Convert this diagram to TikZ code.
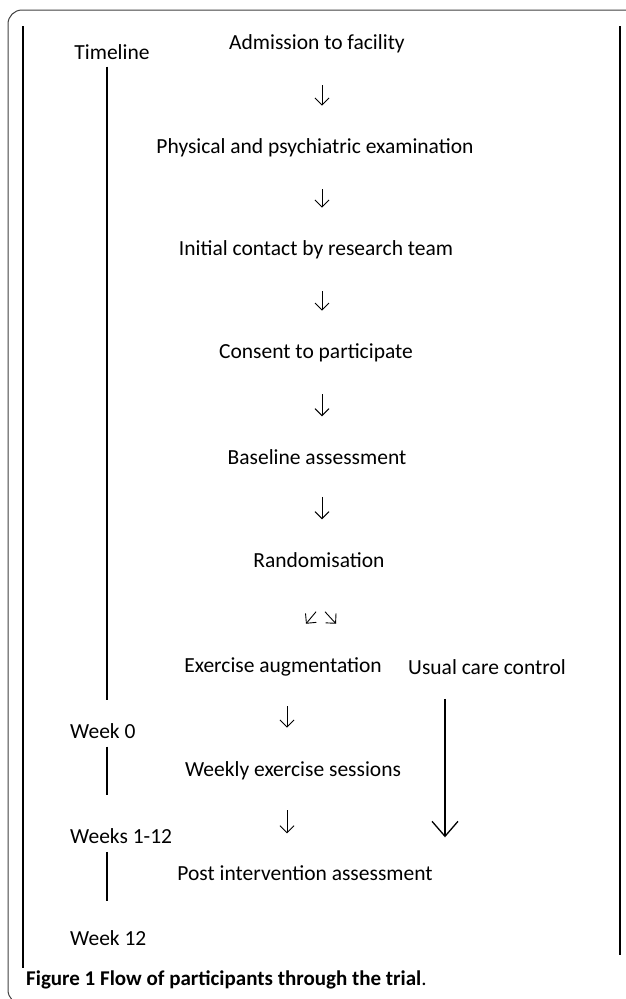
\documentclass[tikz,border=0pt]{standalone}
\usepackage{fontspec}
\setmainfont{Carlito}
\usetikzlibrary{positioning,calc,arrows.meta}

\newcommand{\flowfont}{\fontsize{21.5}{25}\selectfont}
\newcommand{\capfont}{\fontsize{21}{25}\selectfont}

\begin{document}
\begin{tikzpicture}[
        x=1pt, y=-1pt,
        stepbox/.style = {font=\flowfont, inner sep=0pt},
        week/.style = {font=\flowfont, inner sep=0pt, anchor=west},
        flow/.style = {-{Straight Barb[length=7pt,width=14pt]}, line width=0.9pt},
        bigflow/.style = {-{Straight Barb[length=15pt,width=26pt]}, line width=1.3pt},
        rule/.style = {line width=1.6pt},
        ]
    \useasboundingbox (0,0) rectangle (625,999);
    % frame
    \draw[line width=1pt, black!75, rounded corners=14pt] (640,10) -- (8,10) -- (8,1004) -- (640,1004);
    \draw[rule] (23,26) -- (23,968);
    \draw[rule] (620,26) -- (620,955);

    % main column
    \node[stepbox] (adm) at (317,44) {Admission to facility};
    \node[stepbox] (phys) at (315,148) {Physical and psychiatric examination};
    \node[stepbox] (cont) at (316,250) {Initial contact by research team};
    \node[stepbox] (cons) at (316,353) {Consent to participate};
    \node[stepbox] (base) at (317,457) {Baseline assessment};
    \node[stepbox] (rand) at (319,560) {Randomisation};
    \node[stepbox] (exe) at (283,667) {Exercise augmentation};
    \node[stepbox] (usual) at (487,667) {Usual care control};
    \node[stepbox] (weekly) at (293,771) {Weekly exercise sessions};
    \node[stepbox] (post) at (305,873) {Post intervention assessment};

    % timeline
    \node[stepbox] (tl) at (112,52) {Timeline};
    \node[week] (w0) at (70,731) {Week 0};
    \node[week] (w1) at (70,836) {Weeks 1-12};
    \node[week] (w12) at (70,938) {Week 12};

    \coordinate (tx) at (107,0);
    \coordinate (ax) at (322,0);
    \coordinate (bx) at (287,0);
    \coordinate (cx) at (445,0);

    \draw[rule, shorten <=7pt, shorten >=23pt] (tl.south -| tx) -- (w0.north -| tx);
    \draw[rule, shorten <=8pt, shorten >=33pt] (w0.south -| tx) -- (w1.north -| tx);
    \draw[rule, shorten <=8pt, shorten >=29pt] (w1.south -| tx) -- (w12.north -| tx);

    \foreach \a/\b in {adm/phys, phys/cont, cont/cons, cons/base, base/rand}
        \draw[flow, shorten <=32pt, shorten >=33pt] (\a.south -| ax) -- (\b.north -| ax);

    \draw[flow] (rand.south) ++(-3,44) -- ++(-10,12);
    \draw[flow] (rand.south) ++(6,44) -- ++(11,12);

    \draw[flow, shorten <=30pt, shorten >=34pt] (exe.south -| bx) -- (weekly.north -| bx);
    \draw[flow, shorten <=30pt, shorten >=32pt] (weekly.south -| bx) -- (post.north -| bx);
    \draw[bigflow, shorten <=24pt, shorten >=28pt] (usual.south -| cx) -- (post.north -| cx);

    % caption
    \node[anchor=west, inner sep=0pt, font=\capfont] (cap) at (26,980)
        {\textbf{Figure 1 Flow of participants through the trial}.};
\end{tikzpicture}
\end{document}
